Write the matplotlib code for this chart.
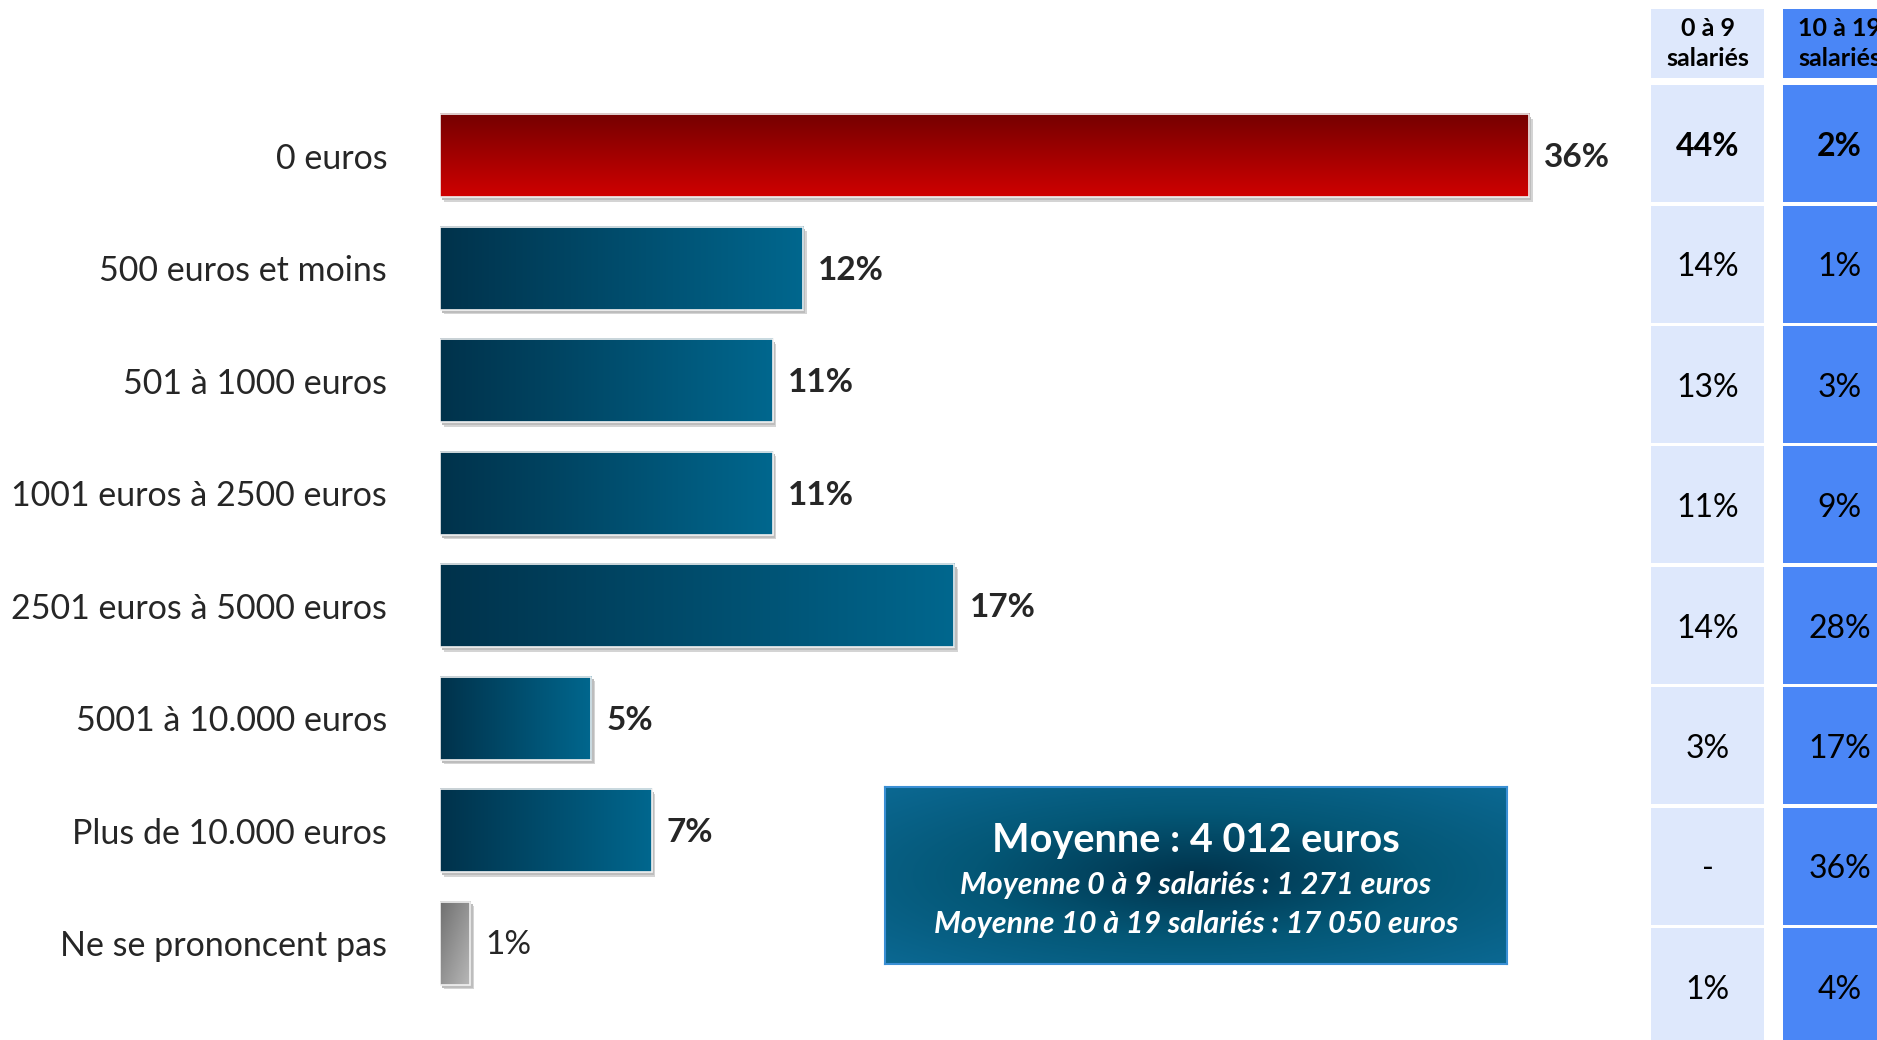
import numpy as np
import matplotlib.pyplot as plt
from matplotlib.patches import Rectangle
from matplotlib.colors import LinearSegmentedColormap

plt.rcParams['font.family'] = ['Lato', 'DejaVu Sans']

# Montants par tranche (en % des entreprises)
categories = ['0 euros', '500 euros et moins', '501 à 1000 euros', '1001 euros à 2500 euros',
              '2501 euros à 5000 euros', '5001 à 10.000 euros', 'Plus de 10.000 euros',
              'Ne se prononcent pas']
shares = [36, 12, 11, 11, 17, 5, 7, 1]

# Détail par taille d'entreprise
table_headers = ['0 à 9\nsalariés', '10 à 19\nsalariés']
small_firms = ['44%', '14%', '13%', '11%', '14%', '3%', '-', '1%']
larger_firms = ['2%', '1%', '3%', '9%', '28%', '17%', '36%', '4%']

mean_title = 'Moyenne : 4 012 euros'
mean_details = ['Moyenne 0 à 9 salariés : 1 271 euros',
                'Moyenne 10 à 19 salariés : 17 050 euros']

W, H = 1877, 1040
TXT = '#262626'
fig = plt.figure(figsize=(W / 100, H / 100), dpi=100)

blue_cm = LinearSegmentedColormap.from_list('blue', ['#01324b', '#00678e'])
red_cm = LinearSegmentedColormap.from_list('red', ['#740000', '#d00000'])
grey_cm = LinearSegmentedColormap.from_list('grey', ['#707070', '#b8b8b8'])
box_cm = LinearSegmentedColormap.from_list('box', ['#01344d', '#045776', '#0b6892'])

# --- barres ---
ax = fig.add_axes([440 / W, 1 - 999.4 / H, 1210 / W, 900 / H])
bar_h = 0.74
ramp = np.linspace(0, 1, 256)
for i, v in enumerate(shares):
    if i == 0:
        grad, cmap = ramp.reshape(-1, 1), red_cm
    elif i == len(shares) - 1:
        gx, gy = np.meshgrid(np.linspace(0, 1, 32), np.linspace(0, 1, 64))
        grad, cmap = (gx + gy) / 2, grey_cm
    else:
        grad, cmap = ramp.reshape(1, -1), blue_cm
    top, bot = i - bar_h / 2, i + bar_h / 2
    # ombre portée
    ax.add_patch(Rectangle((0.12, top + 0.04), v, bar_h, color='#d4d4d4', zorder=1, lw=0))
    ax.add_patch(Rectangle((0.08, top + 0.025), v, bar_h, color='#bdbdbd', zorder=1, lw=0))
    ax.imshow(grad, cmap=cmap, extent=(0, v, bot, top), aspect='auto',
              interpolation='bicubic', zorder=2)
    ax.add_patch(Rectangle((0, top), v, bar_h, fill=False, ec='#f2f2f2', lw=1.2, zorder=3))
    weight = 'normal' if i == len(shares) - 1 else 'bold'
    ax.text(v + 0.5, i + 0.02, f'{v}%', va='center', ha='left', fontsize=24,
            fontweight=weight, color=TXT)

ax.set_xlim(0, 40)
ax.set_ylim(len(shares) - 0.5, -0.5)
ax.set_yticks(range(len(categories)), categories)
ax.set_xticks([])
ax.tick_params(axis='y', length=0, pad=38, labelsize=24.5, labelcolor=TXT)
for s in ax.spines.values():
    s.set_visible(False)

# --- tableau par taille ---
tx = fig.add_axes([1577 / W, 0, 300 / W, 1])
tx.set_xlim(-0.989, 1.284)
tx.set_ylim(7.44, -1.191)
tx.axis('off')
cell_w, cell_h = 0.856, 0.971
fills = ['#dee8fc', '#4a86f6']
for c, (head, col) in enumerate(zip(table_headers, [small_firms, larger_firms])):
    tx.add_patch(Rectangle((c - cell_w / 2, -0.83 - 0.2865), cell_w, 0.573,
                           color=fills[c], lw=0))
    tx.text(c, -0.83, head, ha='center', va='center', fontsize=18,
            fontweight='bold', color='black', linespacing=1.4)
    for r, val in enumerate(col):
        tx.add_patch(Rectangle((c - cell_w / 2, r - cell_h / 2), cell_w, cell_h,
                               color=fills[c], lw=0))
        tx.text(c, r + 0.025, val, ha='center', va='center', fontsize=23,
                fontweight='bold' if r == 0 else 'normal', color='black')

# --- encadré moyenne ---
bx = fig.add_axes([885 / W, 1 - 964 / H, 622 / W, 177 / H])
gx, gy = np.meshgrid(np.linspace(-1, 1, 200), np.linspace(-1, 1, 60))
dist = np.clip(np.sqrt(gx ** 2 + gy ** 2) / np.sqrt(2), 0, 1)
bx.imshow(dist, cmap=box_cm, extent=(0, 1, 0, 1), aspect='auto', interpolation='bicubic')
bx.set_xlim(0, 1)
bx.set_ylim(0, 1)
bx.set_xticks([])
bx.set_yticks([])
for s in bx.spines.values():
    s.set_edgecolor('#3a8fd4')
    s.set_linewidth(1.5)
bx.text(0.5, 0.695, mean_title, ha='center', va='center', fontsize=28.5,
        fontweight='bold', color='white')
for k, line in enumerate(mean_details):
    bx.text(0.5, 0.445 - k * 0.221, line, ha='center', va='center', fontsize=22,
            fontweight='bold', fontstyle='italic', color='white')

fig.savefig('out.png', dpi=100)
